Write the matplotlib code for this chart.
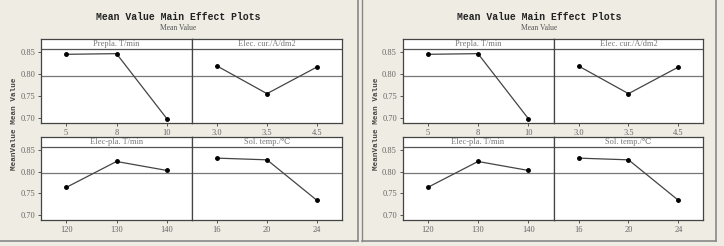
import matplotlib
matplotlib.use("Agg")
import matplotlib.pyplot as plt
from matplotlib.lines import Line2D

# factor names and levels
factors = ["Prepla. T/min", "Elec. cur./A/dm2", "Elec-pla. T/min", "Sol. temp./℃"]
levels = [
    ["5", "8", "10"],
    ["3.0", "3.5", "4.5"],
    ["120", "130", "140"],
    ["16", "20", "24"],
]
# mean value at each level
means = [
    [0.8447, 0.8462, 0.6985],
    [0.8182, 0.7553, 0.8159],
    [0.7635, 0.8232, 0.8026],
    [0.8309, 0.8270, 0.7337],
]
grand_mean = 0.7965
yticks = [0.70, 0.75, 0.80, 0.85]

W, H = 724, 246
BG = "#eeece3"
SERIF = ["Liberation Serif", "DejaVu Serif", "DejaVu Sans"]
MONO = ["Liberation Mono", "DejaVu Sans Mono"]

fig = plt.figure(figsize=(W / 100, H / 100), dpi=100)
fig.patch.set_facecolor(BG)


def px_axes(x0, y0, x1, y1):
    return fig.add_axes([x0 / W, 1 - y1 / H, (x1 - x0) / W, (y1 - y0) / H])


def draw_panel(off, right_edge):
    fig.text((off + 178) / W, 1 - 17 / H, "Mean Value Main Effect Plots",
             ha="center", va="center", fontsize=7, fontweight="bold",
             family=MONO, color="#222222")
    fig.text((off + 178) / W, 1 - 28 / H, "Mean Value", ha="center",
             va="center", fontsize=5.5, family=SERIF, color="#555555")
    fig.text((off + 15) / W, 1 - 124 / H, "MeanValue Mean Value",
             rotation=90, ha="center", va="center", fontsize=5.5,
             fontweight="bold", family=MONO, color="#444444")

    boxes = [(41, 39, 192, 123), (192, 39, 342, 123),
             (41, 137, 192, 220), (192, 137, 342, 220)]
    for i, (x0, y0, x1, y1) in enumerate(boxes):
        ax = px_axes(off + x0, y0, off + x1, y1)
        ax.set_facecolor("white")
        xs = range(1, len(levels[i]) + 1)
        ax.axhline(grand_mean, color="#777777", lw=0.9)
        ax.axhline(0.856, color="#555555", lw=0.9)
        ax.plot(xs, means[i], color="#444444", lw=0.9, marker="o",
                ms=2.5, mfc="black", mec="black")
        ax.text(2, 0.868, factors[i], ha="center", va="center",
                fontsize=6, family=SERIF, color="#777777")
        ax.set_xlim(0.5, 3.5)
        ax.set_ylim(0.6886, 0.8795)
        ax.set_xticks(list(xs))
        ax.set_xticklabels(levels[i], fontsize=6, family=SERIF, color="#666666")
        ax.set_yticks(yticks)
        if i % 2 == 0:
            ax.set_yticklabels([f"{v:.2f}" for v in yticks], fontsize=6,
                               family=SERIF, color="#666666")
            ax.tick_params(axis="y", length=2.5, width=0.7, pad=1.5,
                           color="#555555")
        else:
            ax.tick_params(axis="y", left=False, labelleft=False)
        ax.tick_params(axis="x", length=2.5, width=0.7, pad=2,
                       color="#555555")
        for s in ax.spines.values():
            s.set_color("#444444")
            s.set_linewidth(0.9)

    # panel border (right and bottom)
    fig.add_artist(Line2D([right_edge / W] * 2, [1, 1 - 241 / H],
                          color="#888888", lw=1.2))
    fig.add_artist(Line2D([off / W, right_edge / W], [1 - 241 / H] * 2,
                          color="#888888", lw=1.2))


draw_panel(0, 358)
draw_panel(361.5, 716)
fig.add_artist(Line2D([362 / W] * 2, [1, 1 - 241 / H], color="#888888", lw=1.0))

fig.savefig("out.png", dpi=100, facecolor=BG)
